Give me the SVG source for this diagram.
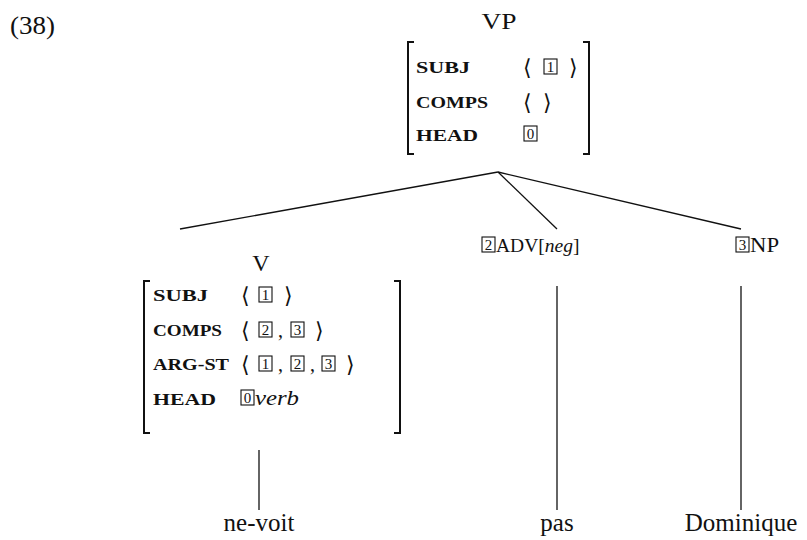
<svg xmlns="http://www.w3.org/2000/svg" width="807" height="540" viewBox="0 0 807 540">
<style>
.cat{font-family:"Liberation Serif",serif;font-size:24px;fill:#111}
.word{font-family:"Liberation Serif",serif;font-size:25px;fill:#111}
.feat{font-family:"Liberation Serif",serif;font-size:17px;font-weight:bold;fill:#111}
.ang{font-family:"DejaVu Serif","DejaVu Sans",serif;font-size:22px;fill:#111}
.num{font-family:"Liberation Serif",serif;font-size:15px;fill:#111}
.it{font-family:"Liberation Serif",serif;font-style:italic;font-size:22px;fill:#111}
.box{fill:none;stroke:#111;stroke-width:1.1}
.brk{fill:none;stroke:#111;stroke-width:2}
.edge{fill:none;stroke:#111;stroke-width:1.3}
</style>
<text x="10" y="34" class="word" textLength="45" lengthAdjust="spacingAndGlyphs">(38)</text>

<g id="vp">
<text x="499" y="29" class="cat" text-anchor="middle" textLength="35" lengthAdjust="spacingAndGlyphs">VP</text>
<path class="brk" d="M414 42 H408 V154 H414"/>
<path class="brk" d="M583 42 H589 V154 H583"/>
<text x="416" y="73" class="feat" textLength="54" lengthAdjust="spacingAndGlyphs">SUBJ</text>
<text x="416" y="108" class="feat" textLength="72" lengthAdjust="spacingAndGlyphs">COMPS</text>
<text x="416" y="141" class="feat" textLength="62" lengthAdjust="spacingAndGlyphs">HEAD</text>
<text x="523" y="75" class="ang">⟨</text>
<rect x="544" y="59" width="13" height="15" class="box"/><text x="550.5" y="72" class="num" text-anchor="middle">1</text>
<text x="569" y="75" class="ang">⟩</text>
<text x="523" y="110" class="ang">⟨</text>
<text x="543" y="110" class="ang">⟩</text>
<rect x="524" y="126" width="13" height="15" class="box"/><text x="530.5" y="139" class="num" text-anchor="middle">0</text>
</g>

<g id="v">
<text x="261" y="271" class="cat" text-anchor="middle">V</text>
<path class="brk" d="M150 281 H144 V433 H150"/>
<path class="brk" d="M394 281 H400 V433 H394"/>
<text x="153" y="301" class="feat" textLength="55" lengthAdjust="spacingAndGlyphs">SUBJ</text>
<text x="153" y="336" class="feat" textLength="69" lengthAdjust="spacingAndGlyphs">COMPS</text>
<text x="153" y="370" class="feat" textLength="76" lengthAdjust="spacingAndGlyphs">ARG-ST</text>
<text x="153" y="405" class="feat" textLength="63" lengthAdjust="spacingAndGlyphs">HEAD</text>
<text x="241" y="303" class="ang">⟨</text>
<rect x="259" y="287" width="13" height="15" class="box"/><text x="265.5" y="300" class="num" text-anchor="middle">1</text>
<text x="284" y="303" class="ang">⟩</text>
<text x="241" y="338" class="ang">⟨</text>
<rect x="259" y="322" width="13" height="15" class="box"/><text x="265.5" y="335" class="num" text-anchor="middle">2</text>
<text x="278" y="337" class="word" style="font-size:20px">,</text>
<rect x="291" y="322" width="13" height="15" class="box"/><text x="297.5" y="335" class="num" text-anchor="middle">3</text>
<text x="315" y="338" class="ang">⟩</text>
<text x="241" y="372" class="ang">⟨</text>
<rect x="259" y="356" width="13" height="15" class="box"/><text x="265.5" y="369" class="num" text-anchor="middle">1</text>
<text x="278" y="371" class="word" style="font-size:20px">,</text>
<rect x="291" y="356" width="13" height="15" class="box"/><text x="297.5" y="369" class="num" text-anchor="middle">2</text>
<text x="310" y="371" class="word" style="font-size:20px">,</text>
<rect x="322" y="356" width="13" height="15" class="box"/><text x="328.5" y="369" class="num" text-anchor="middle">3</text>
<text x="346" y="372" class="ang">⟩</text>
<rect x="241" y="390" width="13" height="15" class="box"/><text x="247.5" y="403" class="num" text-anchor="middle">0</text>
<text x="255" y="405" class="it" textLength="44" lengthAdjust="spacingAndGlyphs">verb</text>
</g>

<g id="adv">
<rect x="482" y="237" width="13" height="15" class="box"/><text x="488.5" y="250" class="num" text-anchor="middle">2</text>
<text x="496" y="252" class="cat" style="font-size:19.5px">ADV[<tspan font-style="italic">neg</tspan>]</text>
</g>

<g id="np">
<rect x="736" y="237" width="13" height="15" class="box"/><text x="742.5" y="250" class="num" text-anchor="middle">3</text>
<text x="750" y="252" class="cat" style="font-size:22px" textLength="29" lengthAdjust="spacingAndGlyphs">NP</text>
</g>

<g id="nevoit"><text x="259" y="531" class="word" text-anchor="middle">ne-voit</text></g>
<g id="pas"><text x="557" y="531" class="word" text-anchor="middle">pas</text></g>
<g id="dominique"><text x="741" y="531" class="word" text-anchor="middle">Dominique</text></g>

<g id="connectors">
<line class="edge" x1="498" y1="172" x2="180" y2="229"/>
<line class="edge" x1="498" y1="172" x2="557" y2="229"/>
<line class="edge" x1="498" y1="172" x2="741" y2="229"/>
<line class="edge" x1="259" y1="450" x2="259" y2="510"/>
<line class="edge" x1="557" y1="286" x2="557" y2="510"/>
<line class="edge" x1="741" y1="286" x2="741" y2="510"/>
</g>
</svg>
